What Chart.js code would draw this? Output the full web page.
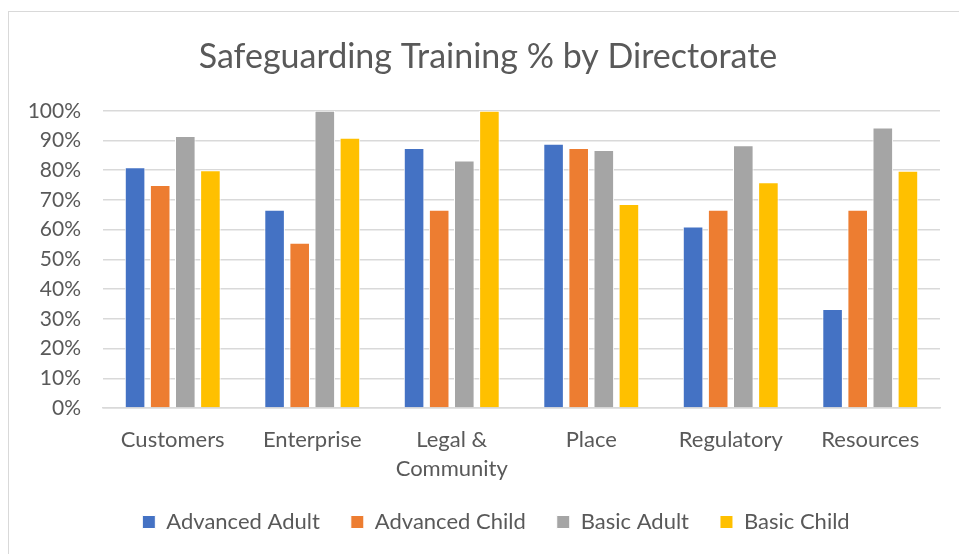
<!DOCTYPE html>
<html>
<head>
<meta charset="utf-8">
<script src="https://cdn.jsdelivr.net/npm/chart.js@4.4.0/dist/chart.umd.min.js"></script>
<style>
    html, body { margin: 0; padding: 0; background: #fff; }
    #wrap { position: relative; width: 959px; height: 554px; }
    #frame { position: absolute; left: 8px; top: 11px; right: 0; bottom: 0;
             border-left: 1.5px solid #d9d9d9; border-top: 1.5px solid #d9d9d9; }
    canvas { position: absolute; left: 0; top: 0; }
</style>
</head>
<body>
<div id="wrap">
    <div id="frame"></div>
    <canvas id="myChart" width="959" height="554"></canvas>
</div>
<script>
const categories = [
    "Customers",
    "Enterprise",
    ["Legal &", "Community"],
    "Place",
    "Regulatory",
    "Resources",
];

const advancedAdult = [81, 66.7, 87.5, 88.9, 61.1, 33.3];
const advancedChild = [75, 55.6, 66.7, 87.5, 66.7, 66.7];
const basicAdult = [91.5, 100, 83.3, 86.8, 88.4, 94.4];
const basicChild = [80, 90.9, 100, 68.6, 76, 79.8];

const yTicks = [0, 10, 20, 30, 40, 50, 60, 70, 80, 90, 100];

const textColor = '#595959';
const fontFamily = 'Lato, "Open Sans", sans-serif';

const ctx = document.getElementById("myChart").getContext("2d");

const makeSet = (label, values, color) => ({
    label: label,
    data: values,
    backgroundColor: color,
    borderColor: '#ffffff',
    borderWidth: 1,
    categoryPercentage: 0.72,
    barPercentage: 0.82,
});

const data = {
    labels: categories,
    datasets: [
        makeSet("Advanced Adult", advancedAdult, '#4472c4'),
        makeSet("Advanced Child", advancedChild, '#ed7d31'),
        makeSet("Basic Adult", basicAdult, '#a5a5a5'),
        makeSet("Basic Child", basicChild, '#ffc000'),
    ],
};

// nudge title and legend to the right, like the original
const shiftBlocks = {
    id: 'shiftBlocks',
    afterLayout(chart) {
        chart.titleBlock.left += 18;
        chart.titleBlock.right += 18;
        chart.legend.left += 26;
        chart.legend.right += 26;
    },
};

const config = {
    type: 'bar',
    data: data,
    plugins: [shiftBlocks],
    options: {
        responsive: false,
        animation: false,
        layout: {
            padding: { left: 0, right: 19, top: 37, bottom: 11 },
        },
        scales: {
            x: {
                grid: { display: false },
                border: { color: '#d9d9d9', width: 1.5 },
                afterFit: (axis) => { axis.height = 72; },
                ticks: {
                    color: textColor,
                    padding: 10,
                    maxRotation: 0,
                    autoSkip: false,
                    font: { family: fontFamily, size: 22, lineHeight: 1.3 },
                },
            },
            y: {
                min: 0,
                max: 100,
                afterFit: (axis) => { axis.width = 103; },
                afterBuildTicks: (axis) => {
                    axis.ticks = yTicks.map(v => ({ value: v }));
                },
                grid: {
                    color: '#d9d9d9',
                    lineWidth: 1.5,
                    drawTicks: false,
                },
                border: { display: false },
                ticks: {
                    color: textColor,
                    padding: 22,
                    font: { family: fontFamily, size: 21 },
                    callback: (v) => v + '%',
                },
            },
        },
        plugins: {
            title: {
                display: true,
                text: 'Safeguarding Training % by Directorate',
                color: textColor,
                font: { family: fontFamily, size: 34, weight: 'normal' },
                padding: { top: 0, bottom: 33 },
            },
            legend: {
                position: 'bottom',
                labels: {
                    color: textColor,
                    boxWidth: 13,
                    boxHeight: 13,
                    padding: 31,
                    font: { family: fontFamily, size: 22 },
                },
            },
            tooltip: { enabled: false },
        },
    },
};

const myChart = new Chart(ctx, config);
</script>
</body>
</html>
